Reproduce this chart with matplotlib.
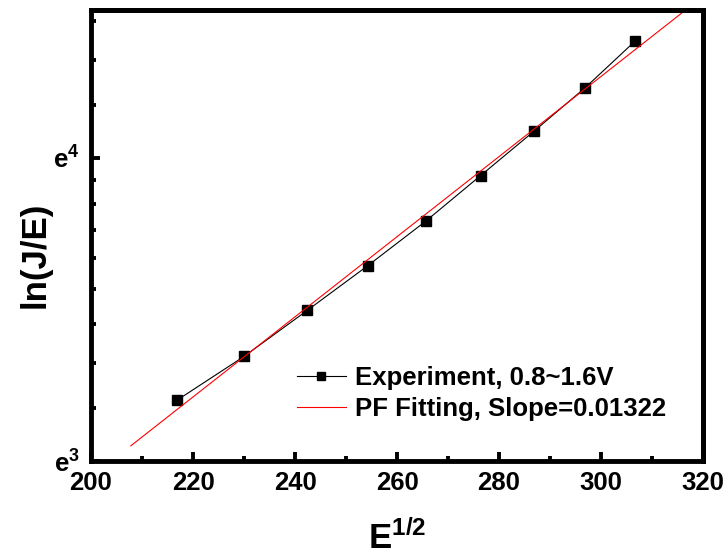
import numpy as np
import matplotlib
matplotlib.use('Agg')
import matplotlib.pyplot as plt
from matplotlib.ticker import MultipleLocator, FixedLocator, FixedFormatter, NullFormatter, NullLocator

# data (x = E^1/2, y = ln(J/E))
e_half = [216.9, 230.0, 242.4, 254.3, 265.6, 276.4, 286.9, 296.9, 306.7]
ln_je = [3.201, 3.345, 3.497, 3.645, 3.791, 3.942, 4.089, 4.232, 4.386]
# PF fitting line end points
fit_x = [207.8, 315.8]
fit_ln = [3.050, 4.478]

exp_label = 'Experiment, 0.8~1.6V'
fit_label = 'PF Fitting, Slope=0.01322'
y_major = [3, 4]
y_tick_labels = [r'$\mathbf{e^{3}}$', r'$\mathbf{e^{4}}$']

plt.rcParams['font.family'] = ['Liberation Sans', 'DejaVu Sans']
plt.rcParams['font.weight'] = 'bold'
plt.rcParams['mathtext.fontset'] = 'custom'
plt.rcParams['mathtext.bf'] = 'Liberation Sans:bold'
plt.rcParams['mathtext.rm'] = 'Liberation Sans:bold'
plt.rcParams['mathtext.it'] = 'Liberation Sans:bold'
plt.rcParams['mathtext.default'] = 'bf'

fig = plt.figure(figsize=(7.28, 5.59), dpi=100)
ax = fig.add_axes([0.125, 0.1753, 0.8407, 0.8077])
ax.set_yscale('log', base=np.e)

ax.plot(e_half, np.exp(ln_je), color='black', lw=0.8, marker='s', ms=7.2,
        mfc='black', mec='black', label=exp_label)
ax.plot(fit_x, np.exp(fit_ln), color='red', lw=0.8, label=fit_label)

ax.set_xlim(200, 320)
ax.set_ylim(np.e**3, np.e**4.49)

ax.xaxis.set_major_locator(MultipleLocator(20))
ax.xaxis.set_minor_locator(MultipleLocator(10))

# Origin style log axis: 8 linear minor ticks between decades of e
y_minor = []
for k in range(3, 5):
    lo, hi = np.e**k, np.e**(k + 1)
    y_minor += [lo + j * (hi - lo) / 9 for j in range(1, 9)]
y_major_vals = [np.e**k for k in y_major]
ax.yaxis.set_major_locator(FixedLocator(y_major_vals))
ax.yaxis.set_major_formatter(FixedFormatter(y_tick_labels))
ax.yaxis.set_minor_locator(FixedLocator(y_minor))
ax.yaxis.set_minor_formatter(NullFormatter())

for s in ax.spines.values():
    s.set_linewidth(3.5)

ax.tick_params(which='both', direction='in', width=2.8, labelsize=18.5, top=False, right=False)
ax.tick_params(which='major', length=6.5, pad=7)
ax.tick_params(which='minor', length=3.5)
ax.tick_params(axis='y', pad=8)

# small outward ticks on top and right
secx = ax.secondary_xaxis('top')
secx.xaxis.set_major_locator(MultipleLocator(10))
secx.xaxis.set_major_formatter(NullFormatter())
secx.tick_params(direction='out', length=1.2, width=2.8)
secx.spines['top'].set_linewidth(3.5)

secy = ax.secondary_yaxis('right')
secy.yaxis.set_major_locator(FixedLocator(y_major_vals + y_minor))
secy.yaxis.set_minor_locator(NullLocator())
secy.yaxis.set_major_formatter(NullFormatter())
secy.tick_params(direction='out', length=1.2, width=2.8)
secy.spines['right'].set_linewidth(3.5)

ax.set_xlabel(r'E$^{1/2}$', fontsize=25, fontweight='bold')
ax.xaxis.set_label_coords(0.5, -0.132)
ax.set_ylabel('ln(J/E)', fontsize=25, fontweight='bold')
ax.yaxis.set_label_coords(-0.064, 0.456)

ax.legend(loc='center left', bbox_to_anchor=(0.408, 0.296), bbox_transform=fig.transFigure,
          frameon=False, handlelength=1.9, handletextpad=0.36, labelspacing=0.28,
          borderpad=0, borderaxespad=0, markerscale=0.8, fontsize=18.5)

fig.savefig('out.png', dpi=100)
